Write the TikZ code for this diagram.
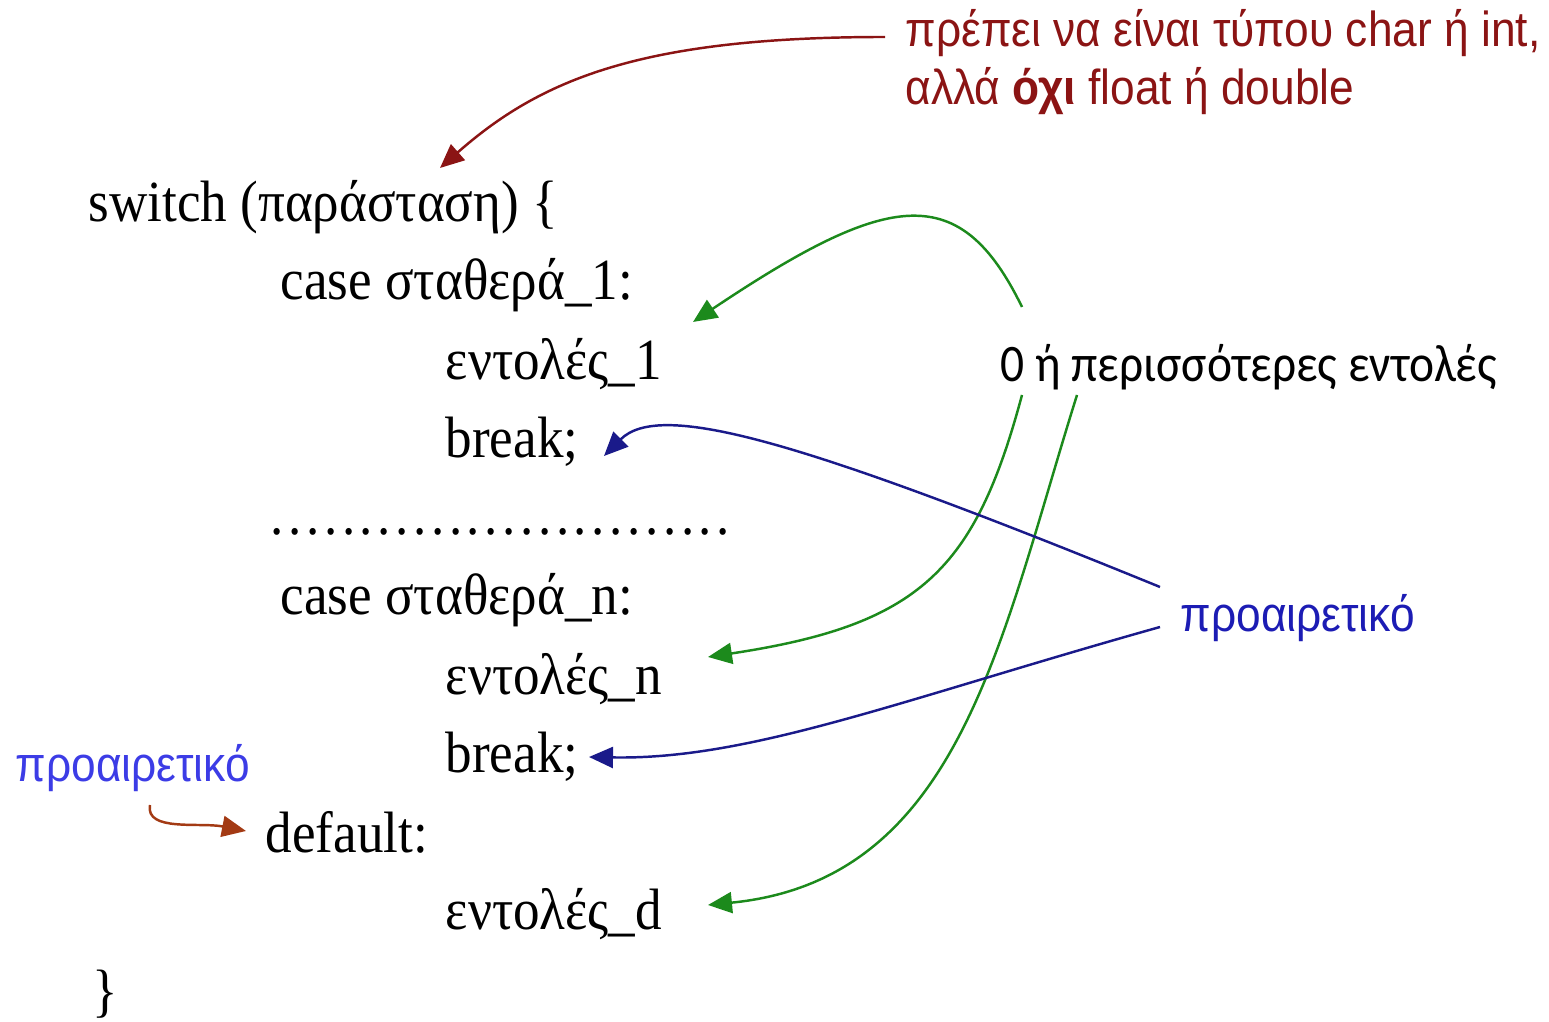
\documentclass[tikz,border=0pt]{standalone}
\usepackage{fontspec}
\setmainfont[FakeStretch=0.91]{Liberation Serif}
\newfontfamily\notefont[FakeStretch=0.9]{Liberation Sans}
\newfontfamily\countfont[FakeStretch=0.9]{Carlito}
\usetikzlibrary{arrows.meta,calc}
\definecolor{Wine}{HTML}{8B1414}
\definecolor{Leaf}{HTML}{1C8A1C}
\definecolor{Navy}{HTML}{1A1A8A}
\definecolor{Ink}{HTML}{1C1CB4}
\definecolor{Sky}{HTML}{3C3CE6}
\definecolor{Rust}{HTML}{A33A14}
\tikzset{
  code/.style={anchor=base west,inner sep=0pt,font=\fontsize{16.6}{20}\selectfont},
  note/.style={anchor=base west,inner sep=0pt,font=\notefont\fontsize{14}{16.5}\selectfont},
  wire/.style={line width=.7pt,-{Triangle[length=2.4mm,width=2.1mm]}}
}
\begin{document}
\begin{tikzpicture}[x=.1mm,y=-.1mm]
  \useasboundingbox (0,0) rectangle (1549,1022);
  % code lines
  \node[code] (sw) at (88,222) {switch (παράσταση) \{};
  \node[code] (c1) at (280,300) {case σταθερά\_1:};
  \node[code] (e1) at (445,380) {εντολές\_1};
  \node[code] (b1) at (445,458) {break;};
  \node[code] (dots) at (270,535) {\foreach \i in {1,...,26}{.\kern1.3pt}};
  \node[code] (cn) at (280,615) {case σταθερά\_n:};
  \node[code] (en) at (445,695) {εντολές\_n};
  \node[code] (bn) at (445,773) {break;};
  \node[code] (df) at (265,853) {default:};
  \node[code] (ed) at (445,930) {εντολές\_d};
  \node[code] (cl) at (92,1010) {\}};
  % notes
  \node[note,text=Wine,align=left] (req) at (905,105)
    {πρέπει να είναι τύπου char ή int,\\αλλά \textbf{όχι} float ή double};
  \node[anchor=base west,inner sep=0pt,font=\countfont\fontsize{15}{18}\selectfont] (zero) at (1000,382)
    {0 ή περισσότερες εντολές};
  \node[note,text=Ink] (optr) at (1180,632) {προαιρετικό};
  \node[note,text=Sky] (optl) at (15,782) {προαιρετικό};
  % arrow ends
  \coordinate (r0) at (885,37);
  \coordinate (r1) at (440,168);
  \coordinate (g0) at (1022,307);
  \coordinate (g1) at (693,322);
  \coordinate (g2) at (1022,395);
  \coordinate (g3) at (708,657);
  \coordinate (g4) at (1077,395);
  \coordinate (g5) at (708,905);
  \coordinate (n0) at (1160,587);
  \coordinate (n1) at (604,456);
  \coordinate (n2) at (1160,627);
  \coordinate (n3) at (589,757);
  \coordinate (o0) at (150,805);
  \coordinate (o1) at (246,831);
  % arrows
  \draw[wire,Wine] (r0) .. controls (640,37) and (540,80) .. (r1);
  \draw[wire,Leaf] (g0) .. controls (960,180) and (890,190) .. (g1);
  \draw[wire,Leaf] (g2) .. controls (975,570) and (920,625) .. (g3);
  \draw[wire,Leaf] (g4) .. controls (1000,640) and (960,880) .. (g5);
  \draw[wire,Navy] (n0) .. controls (800,440) and (660,400) .. (n1);
  \draw[wire,Navy] (n2) .. controls (900,700) and (750,760) .. (n3);
  \draw[wire,Rust] (o0) .. controls (145,832) and (200,822) .. (o1);
\end{tikzpicture}
\end{document}
